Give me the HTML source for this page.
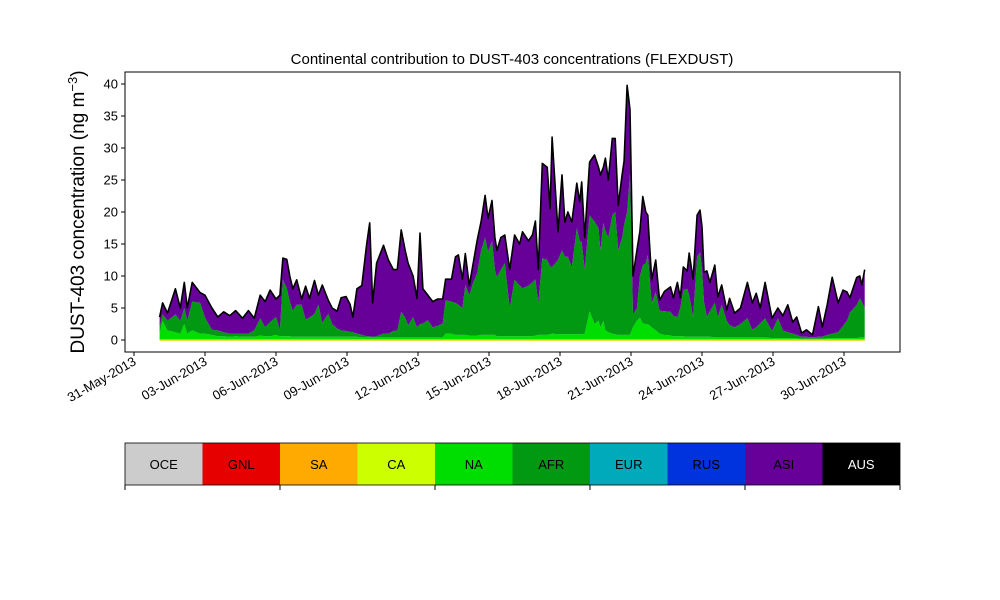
<!DOCTYPE html>
<html><head><meta charset="utf-8"><style>
body{margin:0;background:#fff;}
svg{display:block;font-family:"Liberation Sans","DejaVu Sans",sans-serif;}
</style></head><body>
<svg id="chart" width="1000" height="600" viewBox="0 0 1000 600" xmlns="http://www.w3.org/2000/svg">
<rect width="1000" height="600" fill="#fff"/>
<text x="512" y="64" font-size="15" text-anchor="middle">Continental contribution to DUST-403 concentrations (FLEXDUST)</text>
<text transform="translate(84,212) rotate(-90)" font-size="19" text-anchor="middle">DUST-403 concentration (ng m<tspan dy="-7" font-size="13">−3</tspan><tspan dy="7">)</tspan></text>
<g id="areas"></g>
<g id="axes"></g>
<g id="cbar"></g>
</svg>
<script>
// hours since 31-May-2013 00:00
const hours=[26,29,34,42,47,51,54,59,67,72,79,85,91,97,103,110,116,122,128,133,138,144,148,151,155,158,161,165,170,174,178,183,187,191,197,201,206,210,215,219,222,226,231,236,239,242,246,253,258,263,267,271,275,278,283,287,290,293,298,303,308,313,316,322,326,329,333,336,340,344,348,352,356,359,363,366,368,372,376,381,386,391,394,400,404,407,410,414,419,422,424,430,434,437,440,444,449,452,454,457,462,467,471,473,476,478,481,485,488,491,495,497,500,503,506,510,513,516,519,521,525,529,533,538,544,547,551,554,557,561,563,567,571,574,576,578,581,584,589,592,596,601,604,609,615,622,627,631,635,640,647,653,658,663,668,672,677,682,688,694,698,703,708,714,719,723,726,733,736,738,741];
const naVals=[1,3,1.5,1.2,1,2.5,1,1.5,1,1,.8,.6,.6,.5,.6,.5,.5,.5,.7,.6,.6,.8,.6,.6,.6,.6,.5,.5,.5,.5,.5,.5,.5,.5,.5,.5,.5,.5,.5,.5,.5,.5,.4,.4,.4,.4,.4,.4,.4,.4,.4,.4,.4,.4,.4,.4,.4,.4,.4,.4,.4,.4,1,1,.8,.8,.8,.8,.7,.7,.7,.8,.8,.8,.8,.8,.6,.6,.6,.6,.6,.6,.6,.6,.6,.7,.8,.8,.8,.9,1,.9,.9,.9,.9,.9,.9,.9,.9,1,4.5,2.5,3,2,3,1.5,1.2,1,.9,.8,.8,.8,.8,.8,2,3,3.5,2.6,2.5,2.5,2,1.5,1,.8,.7,.6,.6,.6,.6,.5,.5,.5,.5,.5,.5,.5,.5,.5,.4,.4,.4,.4,.4,.4,.4,.4,.4,.4,.4,.4,.3,.3,.3,.3,.3,.3,.2,.2,.2,.2,.2,.3,.3,.3,.3,.3,.3,.3,.4,.4,.4];
const afrVals=[1,1,1.5,2.8,2,2.5,2,4.5,4.8,2.5,.8,.9,.6,.5,.4,.5,.5,1,2.7,1.4,2.2,2.8,1,8.8,7.5,5.4,4.1,5,5,2.7,3,3.6,5,2.2,3.6,2,1.3,1,.9,.8,.7,.5,.4,.2,.2,.1,.2,.6,.6,1,1.1,4,3.1,1.9,3.2,1.6,2.1,2.2,2.7,1.6,1.8,2.2,5.2,5,5,4.7,4.2,7.8,6.3,8.3,9.7,13.2,15.2,13,14.7,10.2,9.2,10.4,11.4,4.4,8.8,7.9,7.5,7.9,8.4,8.8,5,12,11.7,10.6,10.4,11.6,13.1,12.1,12.1,10.5,16.6,14.6,14.4,10,15,16,14.5,12,15.3,15.5,14.8,18.5,19.1,13.2,15.2,17.2,19.2,25.2,2,2,6.5,9.1,9.5,10.8,3.8,6,3.6,3.7,3.7,3.2,3,4.4,7.2,7.5,6.5,3.1,12.5,13.2,10.5,5.5,3.1,4,5.4,3.2,5.1,2.6,1.9,1.6,2.1,3,1.2,1.6,2.2,3,1.1,3.1,1.2,.9,.7,.5,.3,.3,.2,.3,.3,.5,.7,.9,1.9,2.7,4,5.2,6.1,5.6,4.6];
const asiVals=[1.6,1.8,1.2,4,2,4,2,3,1.6,3.5,3.4,2.1,3.2,2.8,3.6,2.4,3.6,1.9,3.6,4,5,2.8,5.4,3.4,4.5,4,3.4,3.9,.9,5.2,3,5.2,1.5,5.9,2.1,2.5,2.7,5.1,5.4,4.3,2.4,7,7.7,14.4,17.7,5.3,11.4,13.8,11.5,9.6,9.5,12.8,10.5,9.7,6.4,4.5,14.2,5.4,3.9,4,4.2,3.8,3.3,3.5,7.2,7.8,4.5,4.9,1.5,3,5.2,4.5,6.6,5.2,6.3,5,4.2,5,4.4,6,7,6.5,8.8,7,7.4,9.1,5.2,14.8,14.5,9,20.3,4.4,11.8,5.4,7,7,7,6.1,9.4,5,8.3,10.4,9.5,11.8,8.7,11.4,9,12,11.5,7,9.8,10,19.8,10,6,9,7,10.7,8,6.2,3.6,5,1.6,3.1,3.9,2.8,5.4,1.6,3.6,2.8,6.6,5.9,6.5,6.6,6.7,4.6,7.2,4.5,5.9,3.1,3.1,1.7,4.2,2.2,2.5,5.6,4.2,5.3,2.4,5.6,2,1.6,2.3,4.3,1.8,2.8,.6,1.1,.4,4.7,1.5,4.7,8.8,4.6,5.6,4.5,2.3,4.3,3.5,2.6,6];
const yTicks=[0,5,10,15,20,25,30,35,40];
const xTickDays=[0,3,6,9,12,15,18,21,24,27,30];
const xTickLabels=["31-May-2013","03-Jun-2013","06-Jun-2013","09-Jun-2013","12-Jun-2013","15-Jun-2013","18-Jun-2013","21-Jun-2013","24-Jun-2013","27-Jun-2013","30-Jun-2013"];
const regions=["OCE","GNL","SA","CA","NA","AFR","EUR","RUS","ASI","AUS"];
const regionColors=["#cccccc","#e60000","#ffaa00","#ccff00","#00dd00","#009911","#00aabb","#0033dd","#660099","#000000"];

const NS="http://www.w3.org/2000/svg";
const L=125,R=900,T=72,B=352;
const xScale=h=>134+h/24*23.667;
const yScale=v=>340-v*6.4;
function mk(tag,attrs,parent){const e=document.createElementNS(NS,tag);for(const k in attrs)e.setAttribute(k,attrs[k]);parent.appendChild(e);return e;}
const areas=document.getElementById('areas'),axes=document.getElementById('axes'),cbar=document.getElementById('cbar');

const series=[naVals,afrVals,asiVals];
const sColors=["#00dd00","#009911","#660099"];
const sNames=["area-na","area-afr","area-asi"];
let base=hours.map(()=>0);
series.forEach((vals,si)=>{
  const top=base.map((b,i)=>b+vals[i]);
  let d="M"+hours.map((h,i)=>xScale(h).toFixed(1)+","+yScale(top[i]).toFixed(1)).join("L");
  for(let i=hours.length-1;i>=0;i--)d+="L"+xScale(hours[i]).toFixed(1)+","+yScale(base[i]).toFixed(1);
  d+="Z";
  const p=mk('path',{d:d,fill:sColors[si],stroke:"none"},areas);
  
  
  base=top;
});
const yl=mk('path',{d:"M"+hours.map((h,i)=>xScale(h).toFixed(1)+","+yScale(0).toFixed(1)).join("L"),stroke:"#e8d000",'stroke-width':1.5,fill:"none"},areas);


const tl=mk('path',{d:"M"+hours.map((h,i)=>xScale(h).toFixed(1)+","+yScale(base[i]).toFixed(1)).join("L"),stroke:"#000",'stroke-width':1.6,fill:"none",'stroke-linejoin':"round"},areas);



const frame=mk('rect',{x:L,y:T,width:R-L,height:B-T,fill:"none",stroke:"#000",'stroke-width':1},axes);


yTicks.forEach(v=>{
  const y=yScale(v);
  const t=mk('line',{x1:L-4,x2:L,y1:y,y2:y,stroke:"#000"},axes);
  
  
  const tx=mk('text',{x:L-7,y:y+4.5,'font-size':13,'text-anchor':"end"},axes);
  
  
  tx.textContent=v;
});
xTickDays.forEach((d,i)=>{
  const x=xScale(d*24);
  const t=mk('line',{x1:x,x2:x,y1:B,y2:B+4,stroke:"#000"},axes);
  
  
  const tx=mk('text',{transform:`translate(${x+3},${B+12}) rotate(-30)`,'font-size':13,'text-anchor':"end"},axes);
  
  
  tx.textContent=xTickLabels[i];
});

const cw=(R-L)/regions.length;
regions.forEach((r,i)=>{
  const g=mk('g',{},cbar);
  
  
  mk('rect',{x:L+i*cw,y:443,width:cw,height:42,fill:regionColors[i]},g);
  const tx=mk('text',{x:L+i*cw+cw/2,y:469,'font-size':13,'text-anchor':"middle",fill:r==="AUS"?"#fff":"#000"},g);
  tx.textContent=r;
});
const cf=mk('rect',{x:L,y:443,width:R-L,height:42,fill:"none",stroke:"#000",'stroke-width':0.8},cbar);


[0,2,4,6,8,10].forEach(k=>{
  const t=mk('line',{x1:L+k*cw,x2:L+k*cw,y1:485,y2:490,stroke:"#000"},cbar);
  
  
});
</script>
</body></html>
